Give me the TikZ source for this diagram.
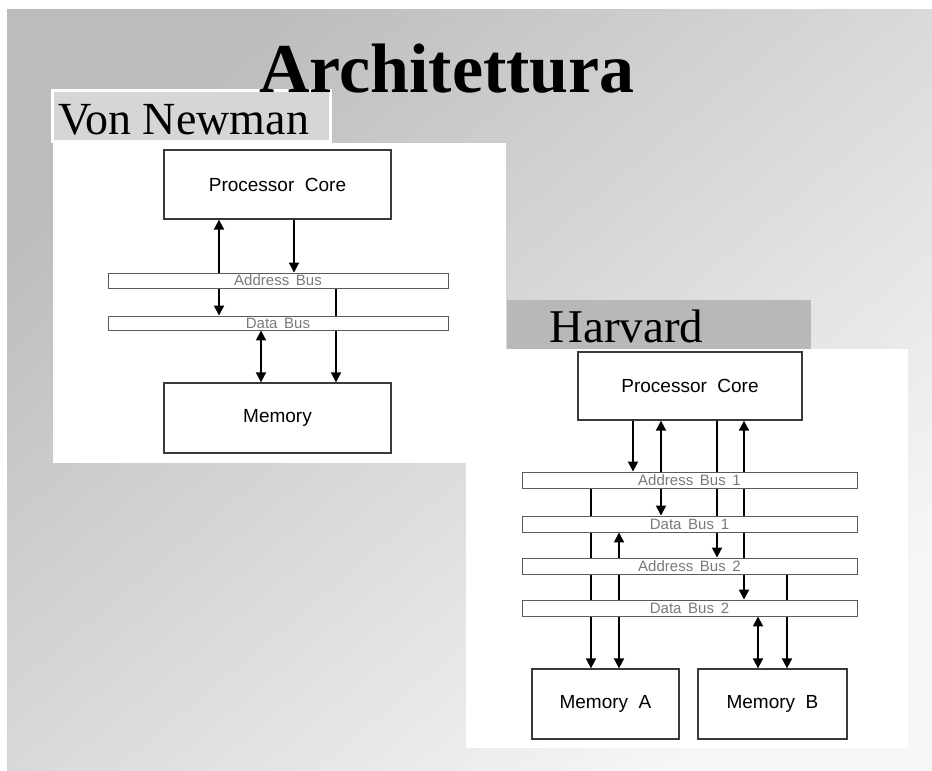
\documentclass[tikz,border=0pt]{standalone}
\usepackage{fontspec}
\setmainfont{Liberation Serif}
\newfontfamily\diagfont{Liberation Sans}
\usetikzlibrary{arrows.meta}
\pgfdeclarelayer{back}
\pgfdeclarelayer{wires}
\pgfsetlayers{back,wires,main}
\definecolor{boxline}{HTML}{3A3A3A}
\definecolor{busline}{HTML}{5A5A5A}
\definecolor{bustext}{HTML}{7A7A7A}
\definecolor{vnlabel}{HTML}{D6D6D6}
\definecolor{hvlabel}{HTML}{B8B8B8}
\tikzset{
  unitbox/.style={draw=boxline, line width=1.3pt, fill=white, inner sep=0pt,
    font=\diagfont\fontsize{19}{21}\selectfont},
  busbar/.style={draw=busline, line width=0.9pt, fill=white, inner sep=0pt,
    font=\diagfont\fontsize{15}{16}\selectfont, text=bustext},
  wire/.style={line width=1.8pt, black},
  oneway/.style={wire, -{Triangle[width=10pt,length=10pt]}},
  twoway/.style={wire, {Triangle[width=10pt,length=10pt]}-{Triangle[width=10pt,length=10pt]}},
  plain/.style={wire}
}
\begin{document}
\begin{tikzpicture}[x=1pt,y=-1pt]
\useasboundingbox (0,0) rectangle (932,771);

% backdrop, panels and section labels
\begin{pgfonlayer}{back}
  \fill[white] (0,0) rectangle (932,771);
  \shade[top color={rgb,255:red,188;green,188;blue,188},
         bottom color={rgb,255:red,246;green,246;blue,246},
         shading angle=40] (7,9) rectangle (932,771);
  \fill[white] (53,143) rectangle (506,463);
  \fill[white] (466,349) rectangle (908,748);
  \filldraw[fill=vnlabel, draw=white, line width=3pt] (52,90) rectangle (330,141);
  \fill[hvlabel] (507,300) rectangle (811,349);
\end{pgfonlayer}

\node[anchor=base, font=\bfseries\fontsize{70}{72}\selectfont, inner sep=0pt]
  (title) at (447,92) {Architettura};
\node[anchor=base west, font=\fontsize{46}{48}\selectfont, inner sep=0pt]
  (vnname) at (58,134) {Von Newman};
\node[anchor=base west, font=\fontsize{47}{49}\selectfont, inner sep=0pt]
  (hvname) at (549,342) {Harvard};

% Von Neumann machine
\node[unitbox, minimum width=227pt, minimum height=69pt] (vcore) at (277.5,184.5) {Processor\ \ Core};
\node[busbar, minimum width=340pt, minimum height=15pt] (vab) at (278,280.5) {Address\ \,Bus};
\node[busbar, minimum width=340pt, minimum height=14pt] (vdb) at (278,323) {Data\ \,Bus};
\node[unitbox, minimum width=227pt, minimum height=70pt] (vmem) at (277.5,418) {Memory};

\begin{pgfonlayer}{wires}
  \draw[twoway] (219,0 |- vdb.north) -- (219,0 |- vcore.south);
  \draw[oneway] (294,0 |- vcore.south) -- (294,0 |- vab.north);
  \draw[oneway] (336,0 |- vab.south) -- (336,0 |- vmem.north);
  \draw[twoway] (261,0 |- vdb.south) -- (261,0 |- vmem.north);
\end{pgfonlayer}

% Harvard machine
\node[unitbox, minimum width=224pt, minimum height=68pt] (hcore) at (690,386) {Processor\ \ Core};
\node[busbar, minimum width=335pt, minimum height=16pt] (hab1) at (689.5,480) {Address\ \,Bus\ \,1};
\node[busbar, minimum width=335pt, minimum height=16pt] (hdb1) at (689.5,524) {Data\ \,Bus\ \,1};
\node[busbar, minimum width=335pt, minimum height=16pt] (hab2) at (689.5,566) {Address\ \,Bus\ \,2};
\node[busbar, minimum width=335pt, minimum height=16pt] (hdb2) at (689.5,608) {Data\ \,Bus\ \,2};
\node[unitbox, minimum width=147pt, minimum height=70pt] (hmema) at (605.5,704) {Memory\ \ A};
\node[unitbox, minimum width=149pt, minimum height=70pt] (hmemb) at (772.5,704) {Memory\ \ B};

\begin{pgfonlayer}{wires}
  \draw[oneway] (633,0 |- hcore.south) -- (633,0 |- hab1.north);
  \draw[twoway] (661,0 |- hdb1.north) -- (661,0 |- hcore.south);
  \draw[oneway] (717,0 |- hcore.south) -- (717,0 |- hab2.north);
  \draw[twoway] (744,0 |- hdb2.north) -- (744,0 |- hcore.south);
  \draw[oneway] (591,0 |- hab1.south) -- (591,0 |- hmema.north);
  \draw[twoway] (619,0 |- hdb1.south) -- (619,0 |- hmema.north);
  \draw[twoway] (758,0 |- hdb2.south) -- (758,0 |- hmemb.north);
  \draw[oneway] (787,0 |- hab2.south) -- (787,0 |- hmemb.north);
\end{pgfonlayer}
\end{tikzpicture}
\end{document}
